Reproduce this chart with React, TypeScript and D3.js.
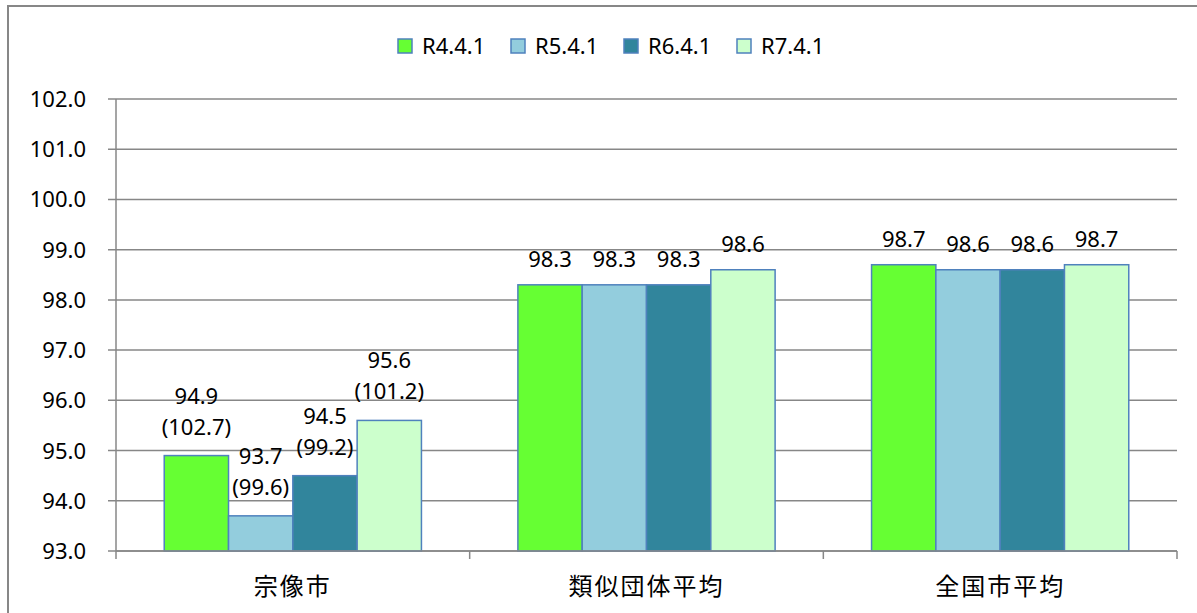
import React from 'react';
import * as d3 from 'd3';

// categories and series
const categories = ['宗像市', '類似団体平均', '全国市平均'];
const seriesNames = ['R4.4.1', 'R5.4.1', 'R6.4.1', 'R7.4.1'];
const seriesColors = ['#66FF33', '#93CDDD', '#31859C', '#CCFFCC'];

// values per series (one entry per category)
const r4Values = [94.9, 98.3, 98.7];
const r5Values = [93.7, 98.3, 98.6];
const r6Values = [94.5, 98.3, 98.6];
const r7Values = [95.6, 98.6, 98.7];
const seriesValues = [r4Values, r5Values, r6Values, r7Values];

// secondary figures shown in brackets for 宗像市 only
const r4Extra = [102.7, null, null];
const r5Extra = [99.6, null, null];
const r6Extra = [99.2, null, null];
const r7Extra = [101.2, null, null];
const seriesExtra = [r4Extra, r5Extra, r6Extra, r7Extra];

const yTicks = [93, 94, 95, 96, 97, 98, 99, 100, 101, 102];

const WIDTH = 1197;
const HEIGHT = 613;
const FONT = "'Noto Sans', 'Noto Sans CJK JP', sans-serif";
const GRID = '#878787';
const BAR_STROKE = '#4F81BD';

export default function App() {
  const plot = { left: 116, right: 1177, top: 99, bottom: 551 };

  const x0 = d3.scaleBand<string>()
    .domain(categories)
    .range([plot.left, plot.right])
    .paddingInner(1.5 / 5.5)
    .paddingOuter(0.75 / 5.5);

  const x1 = d3.scaleBand<string>()
    .domain(seriesNames)
    .range([0, x0.bandwidth()])
    .padding(0);

  const y = d3.scaleLinear()
    .domain([93, 102])
    .range([plot.bottom, plot.top]);

  const step = x0.step();
  const boundaries = d3.range(categories.length + 1).map(i => plot.left + i * step);

  // legend layout
  const legendX = 398;
  const legendStep = 113;
  const legendY = 46;

  return (
    <svg
      width={WIDTH}
      height={HEIGHT}
      style={{ position: 'absolute', left: 0, top: 0, background: '#fff' }}
      fontFamily={FONT}
    >
      {/* outer frame */}
      <rect x={8} y={6} width={1230} height={640} fill="#fff" stroke={GRID} strokeWidth={2} />

      {/* gridlines */}
      {yTicks.map(t => (
        <line key={'g' + t} x1={plot.left - 8} x2={plot.right} y1={y(t)} y2={y(t)} stroke={GRID} strokeWidth={1.5} />
      ))}

      {/* y axis */}
      <line x1={plot.left} x2={plot.left} y1={plot.top} y2={plot.bottom} stroke={GRID} strokeWidth={1.5} />
      {yTicks.map(t => (
        <text key={'yl' + t} x={86} y={y(t) + 8} textAnchor="end" fontSize={22} fill="#000">
          {t.toFixed(1)}
        </text>
      ))}

      {/* x axis ticks */}
      {boundaries.map((bx, i) => (
        <line key={'xt' + i} x1={bx} x2={bx} y1={plot.bottom} y2={plot.bottom + 8} stroke={GRID} strokeWidth={1.5} />
      ))}

      {/* bars */}
      {categories.map((cat, ci) => (
        <g key={cat} transform={`translate(${x0(cat)},0)`}>
          {seriesNames.map((s, si) => {
            const v = seriesValues[si][ci];
            return (
              <rect
                key={s}
                x={x1(s)}
                y={y(v)}
                width={x1.bandwidth()}
                height={y(93) - y(v)}
                fill={seriesColors[si]}
                stroke={BAR_STROKE}
                strokeWidth={1.5}
              />
            );
          })}
        </g>
      ))}

      {/* x axis line over bars */}
      <line x1={plot.left} x2={plot.right} y1={plot.bottom} y2={plot.bottom} stroke={GRID} strokeWidth={1.5} />

      {/* data labels */}
      {categories.map((cat, ci) => (
        <g key={'lab' + cat}>
          {seriesNames.map((s, si) => {
            const v = seriesValues[si][ci];
            const extra = seriesExtra[si][ci];
            const cx = (x0(cat) || 0) + (x1(s) || 0) + x1.bandwidth() / 2;
            const top = y(v);
            if (extra != null) {
              return (
                <g key={s}>
                  <text x={cx} y={top - 52} textAnchor="middle" fontSize={22}>{v.toFixed(1)}</text>
                  <text x={cx} y={top - 21} textAnchor="middle" fontSize={22}>{`(${extra.toFixed(1)})`}</text>
                </g>
              );
            }
            return (
              <text key={s} x={cx} y={top - 18} textAnchor="middle" fontSize={22}>{v.toFixed(1)}</text>
            );
          })}
        </g>
      ))}

      {/* category labels */}
      {categories.map(cat => (
        <text
          key={'cl' + cat}
          x={(x0(cat) || 0) + x0.bandwidth() / 2}
          y={595}
          textAnchor="middle"
          fontSize={24}
          letterSpacing={2}
          fontFamily="'Noto Sans CJK JP', sans-serif"
        >
          {cat}
        </text>
      ))}

      {/* legend */}
      {seriesNames.map((s, i) => (
        <g key={'lg' + s} transform={`translate(${legendX + i * legendStep},${legendY})`}>
          <rect x={0} y={-7} width={14} height={14} fill={seriesColors[i]} stroke={BAR_STROKE} strokeWidth={1.5} />
          <text x={24} y={8} fontSize={22}>{s}</text>
        </g>
      ))}
    </svg>
  );
}
